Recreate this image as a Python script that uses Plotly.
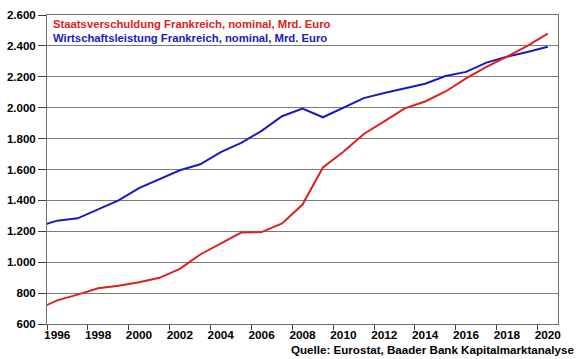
import plotly.graph_objects as go

years = [str(y) for y in range(1995, 2021)]
schulden = [693, 753, 790, 831, 848, 870, 899, 957, 1050, 1120, 1192, 1195, 1251, 1373,
            1613, 1715, 1830, 1912, 1996, 2040, 2105, 2190, 2265, 2330, 2400, 2479]
bip = [1229, 1269, 1284, 1340, 1400, 1480, 1540, 1595, 1634, 1712, 1772, 1850, 1945, 1995,
       1938, 2000, 2062, 2095, 2125, 2155, 2205, 2232, 2292, 2330, 2360, 2395]
label_debt = "Staatsverschuldung Frankreich, nominal, Mrd. Euro"
label_gdp = "Wirtschaftsleistung Frankreich, nominal, Mrd. Euro"
source = "Quelle: Eurostat, Baader Bank Kapitalmarktanalyse"

RED = "#dd2020"
BLUE = "#1a1ac0"
FONT = "Liberation Sans"

fig = go.Figure()
fig.add_trace(go.Scatter(x=years, y=bip, mode="lines", line=dict(color=BLUE, width=2),
                         name=label_gdp, showlegend=False))
fig.add_trace(go.Scatter(x=years, y=schulden, mode="lines", line=dict(color=RED, width=2),
                         name=label_debt, showlegend=False))

fig.update_layout(
    width=580, height=359,
    margin=dict(l=47, r=22, t=15, b=35),
    paper_bgcolor="white", plot_bgcolor="white",
    separators=",.",
    font=dict(family=FONT, size=12, color="black"),
    xaxis=dict(
        type="category", categoryorder="array", categoryarray=years,
        range=[0.5, 25.5], tick0=1, dtick=2, tickson="boundaries",
        ticks="outside", ticklen=5, tickcolor="#404040", tickangle=0,
        showgrid=False, showline=True, linecolor="#707070", mirror=True,
        automargin=False,
        tickfont=dict(family=FONT, size=11.8, color="black", weight="bold"),
    ),
    yaxis=dict(
        range=[600, 2600], dtick=200, tickformat=",d",
        ticks="outside", ticklen=8, tickcolor="#404040",
        showgrid=True, gridcolor="#7a7a7a", gridwidth=1,
        showline=True, linecolor="#707070", mirror=True,
        automargin=False,
        tickfont=dict(family=FONT, size=11.5, color="black", weight="bold"),
        zeroline=False,
    ),
    annotations=[
        dict(text=label_debt, xref="paper", yref="paper", x=0.008, y=0.971,
             xanchor="left", yanchor="middle", showarrow=False,
             font=dict(family=FONT, size=11.3, color=RED, weight="bold")),
        dict(text=label_gdp, xref="paper", yref="paper", x=0.008, y=0.925,
             xanchor="left", yanchor="middle", showarrow=False,
             font=dict(family=FONT, size=11.3, color=BLUE, weight="bold")),
        dict(text=source, xref="paper", yref="paper", x=1.035, y=-0.084,
             xanchor="right", yanchor="middle", showarrow=False,
             font=dict(family=FONT, size=11.6, color="black", weight="bold")),
    ],
)

fig.write_html("out.html", config={"displayModeBar": False},
               post_script="document.body.style.margin='0';")
